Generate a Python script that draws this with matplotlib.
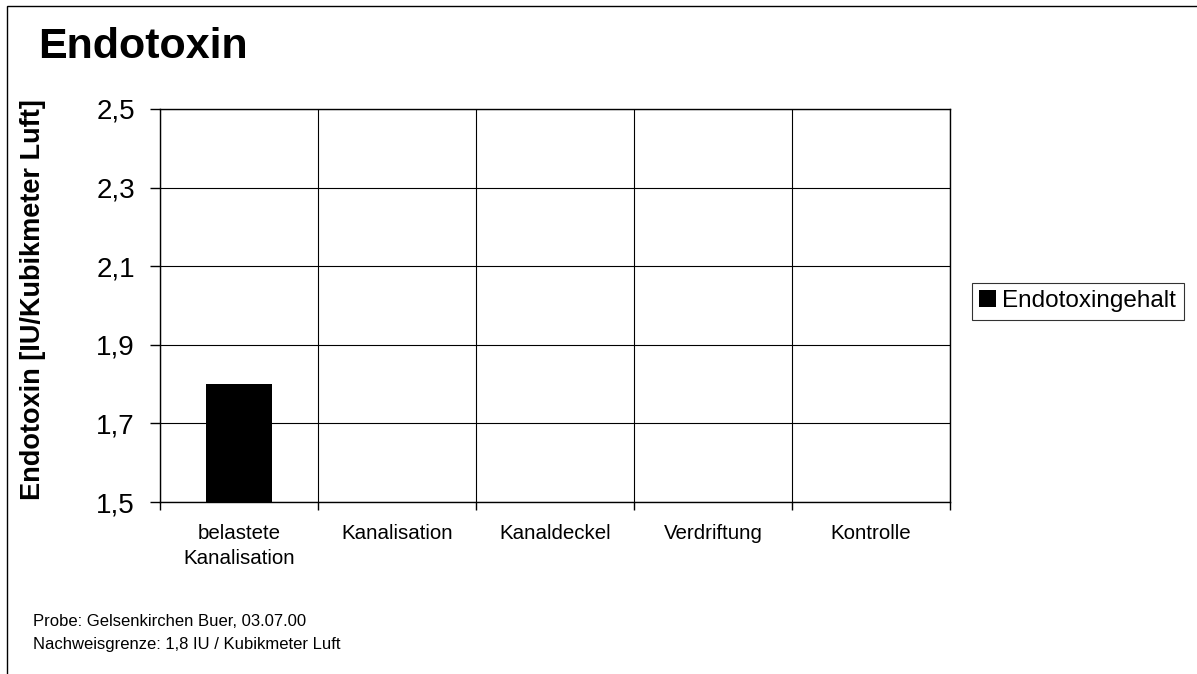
import matplotlib.pyplot as plt
from matplotlib.patches import Rectangle

categories = ["belastete\nKanalisation", "Kanalisation", "Kanaldeckel", "Verdriftung", "Kontrolle"]
values = [1.8, None, None, None, None]
y_ticks = [1.5, 1.7, 1.9, 2.1, 2.3, 2.5]
y_tick_labels = ["1,5", "1,7", "1,9", "2,1", "2,3", "2,5"]

plt.rcParams['font.family'] = ['Liberation Sans', 'DejaVu Sans']

W, H = 1197, 674
fig = plt.figure(figsize=(W / 100, H / 100), dpi=100)
ax = fig.add_axes([160 / W, 1 - 502 / H, (950 - 160) / W, (502 - 109) / H])

base = 1.5
xs = [i for i, v in enumerate(values) if v is not None]
hs = [values[i] - base for i in xs]
ax.bar(xs, hs, bottom=base, width=0.42, color="black", label="Endotoxingehalt", zorder=3)

ax.set_xlim(-0.5, len(categories) - 0.5)
ax.set_ylim(1.5, 2.5)
ax.set_yticks(y_ticks)
ax.set_yticklabels(y_tick_labels, fontsize=20)
ax.set_xticks(range(len(categories)))
ax.set_xticklabels(categories, fontsize=14.8, linespacing=1.4)
ax.tick_params(axis="x", length=0, pad=16)
ax.tick_params(axis="y", length=7, width=1, pad=11)

# category boundaries: grid lines plus small ticks below the axis
bounds = [i - 0.5 for i in range(len(categories) + 1)]
ax.set_xticks(bounds, minor=True)
ax.tick_params(axis="x", which="minor", length=6, width=1)
ax.grid(True, axis="x", which="minor", color="black", linewidth=0.8, zorder=0)
ax.grid(True, axis="y", which="major", color="black", linewidth=0.8, zorder=0)

for s in ax.spines.values():
    s.set_linewidth(1)
    s.set_color("black")

fig.text(33 / W, 1 - 300 / H, "Endotoxin [IU/Kubikmeter Luft]", fontsize=19.5, fontweight="bold",
         rotation=90, va="center", ha="center")

leg = fig.legend(loc="upper left", bbox_to_anchor=(972 / W, 1 - 283 / H), fontsize=17.5,
                 frameon=True, fancybox=False, edgecolor="black", handlelength=0.7,
                 handleheight=0.7, handletextpad=0.25, borderpad=0.3, borderaxespad=0)
leg.get_frame().set_linewidth(0.8)

fig.text(38 / W, 1 - 47 / H, "Endotoxin", fontsize=31, fontweight="bold", va="center", ha="left")
fig.text(33 / W, 1 - 622 / H, "Probe: Gelsenkirchen Buer, 03.07.00", fontsize=12, va="center")
fig.text(33 / W, 1 - 645 / H, "Nachweisgrenze: 1,8 IU / Kubikmeter Luft", fontsize=12, va="center")

fig.patches.append(Rectangle((7 / W, -0.01), 1.2, 1 - 6 / H + 0.01, transform=fig.transFigure,
                             fill=False, edgecolor="black", linewidth=1))

fig.savefig("out.png", dpi=100)
